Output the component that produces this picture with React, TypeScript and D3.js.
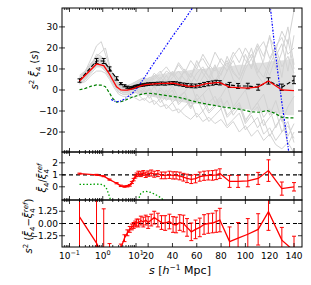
import React from "react";
import * as d3 from "d3";

// ---------- data ----------
const dataS = [0.2, 0.65, 1.07, 1.6, 2.6, 3.5, 4.5, 5.5, 6.5, 7.5, 8.5, 9.5, 10.5, 12, 14, 16, 18, 20, 22.5, 25, 28, 31, 34, 37.5, 40.5, 43, 46, 49, 52, 55.5, 59, 62.5, 66, 69.5, 73, 76, 79, 87, 94, 102, 110.5, 119, 130, 140];
const blackVals = [4.5, 13.8, 13.8, 10, 5.5, 3, 2, 1.3, 1.0, 1.0, 1.3, 1.6, 1.8, 2.0, 2.2, 2.4, 2.6, 2.8, 2.9, 3.0, 3.0, 3.1, 3.0, 3.2, 3.3, 3.1, 2.8, 2.5, 2.2, 2.0, 1.9, 2.2, 2.6, 3.0, 3.3, 3.6, 3.4, 2.4, 1.9, 1.9, 1.3, 4.3, 1.3, 4.8];
const blackErr = [0.8, 1.2, 1.2, 1.0, 0.8, 0.5, 0.5, 0.5, 0.5, 0.5, 0.5, 0.5, 0.5, 0.5, 0.5, 0.6, 0.6, 0.6, 0.6, 0.6, 0.7, 0.7, 0.7, 0.7, 0.7, 0.8, 0.8, 0.8, 0.9, 0.9, 0.9, 0.9, 1.0, 1.0, 1.0, 1.0, 1.0, 1.2, 1.2, 1.3, 1.4, 1.5, 1.5, 1.8];
const redTop = [4.3, 12.4, 11.6, 7.5, 1.5, 0.0, -0.1, 0.0, 0.2, 0.5, 0.8, 1.0, 1.3, 1.6, 2.0, 2.3, 2.5, 2.7, 2.8, 2.9, 3.0, 3.1, 3.1, 3.2, 3.2, 3.0, 2.6, 2.3, 1.9, 1.7, 1.8, 2.2, 2.8, 3.1, 3.3, 3.5, 3.5, 1.4, 1.1, 0.9, 1.5, 4.3, 0.0, -0.3];

const greenS = [0.2, 0.3, 0.45, 0.65, 0.9, 1.2, 1.6, 2.0, 2.6, 3.5, 4.5, 5.5, 7, 9, 11, 14, 17, 20, 25, 31, 37, 43, 49, 55, 62, 69, 76, 83, 90, 97, 104, 111, 118, 124, 130, 136, 141];
const greenVals = [0.1, 0.8, 1.8, 2.4, 2.3, 1.6, -1.5, -4.0, -5.8, -5.6, -5.0, -4.4, -3.7, -3.1, -2.7, -2.1, -1.7, -1.5, -1.8, -2.3, -2.8, -3.3, -4.0, -5.0, -6.0, -6.8, -7.5, -8.2, -8.7, -9.3, -10.3, -10.6, -9.8, -11, -13, -13.3, -13.3];

const blueS = [1.8, 2.2, 2.6, 3.2, 4, 5, 6.5, 8, 10, 12, 15, 18, 21, 25, 30, 40, 50, 60, 70, 80, 100, 115, 119, 121, 124, 127, 130, 133, 136, 140];
const blueVals = [-4.5, -5.2, -5.6, -5.4, -4.8, -3.8, -2.5, -1.3, 0.3, 1.8, 4.2, 6.8, 9.5, 13.0, 17.0, 25.5, 33.5, 42, 50, 57, 62, 55, 46, 37, 21, 7, -6, -18, -31, -45];

const mockS = [0.2, 0.3, 0.45, 0.65, 0.9, 1.2, 1.6, 2.2, 3, 4, 5.5, 7.5, 10, 13, 17, 21, 25, 30, 35, 40, 45, 50, 55, 60, 65, 70, 75, 80, 85, 90, 95, 100, 105, 110, 115, 120, 125, 130, 135, 140];
const mockLo = [3.5, 5.5, 9, 11, 11, 9.5, 6.5, 2.5, -0.5, -1.5, -1.5, -1.5, -1.5, -2, -2.5, -3, -3.5, -4, -4.5, -5, -5.5, -6, -6.5, -6.5, -7, -7, -7.5, -8, -8, -8.5, -9, -9, -9.5, -10, -10, -10.5, -11, -11.5, -12, -12];
const mockHi = [6.5, 9.5, 13, 16, 16, 14, 10, 6, 3, 2.5, 2.5, 3, 4, 5, 5.5, 6, 7, 7.5, 8, 8.5, 9, 9, 9.5, 10, 10, 10.5, 10.5, 11, 11, 11.5, 12, 12, 12.5, 13, 13, 13.5, 14, 14, 14.5, 15];
const mock01 = [6, 9, 15, 21, 23, 17, 11, 6, 3, 2, 2, 3, 4, 5, 6, 4, 8, 5, 9, 7, 12, 8, 14, 10, 17, 12, 9, 15, 11, 18, 13, 20, 15, 22, 16, 25, 19, 28, 22, 38];
const mock02 = [3, 4, 7, 9, 9, 8, 5, 1, -2, -3, -3, -3, -4, -5, -4, -6, -5, -8, -7, -10, -9, -12, -14, -11, -15, -13, -16, -14, -18, -15, -20, -17, -22, -19, -24, -21, -26, -28, -25, -30];
const mock03 = [5, 8, 12, 16, 18, 20, 12, 6, 2, 1, 0, 1, 2, 3, 5, 2, 6, 9, 4, 8, 3, 10, 6, 14, 8, 4, 11, 7, 16, 9, 5, 12, 20, 8, 14, 26, 10, 18, 30, 12];
const mock04 = [4, 6, 10, 13, 12, 10, 7, 3, 0, -1, -1, 0, 1, 0, -2, 1, -3, 0, -5, -2, -6, -3, -8, -4, -10, -6, -3, -9, -5, -12, -8, -15, -10, -6, -13, -9, -18, -12, -22, -16];
const mock05 = [7, 9, 13, 15, 14, 12, 9, 5, 2, 1, 1, 2, 3, 4, 3, 6, 5, 8, 11, 7, 13, 9, 6, 12, 15, 10, 18, 13, 9, 16, 20, 14, 11, 19, 23, 15, 21, 25, 17, 20];
const mock06 = [3, 5, 8, 11, 11, 9, 6, 2, -1, -2, -2, -1, 0, -1, 1, -2, 2, -4, 0, -6, -3, -1, -8, -5, -2, -10, -7, -4, -12, -9, -6, -14, -11, -8, -17, -13, -10, -20, -15, -25];
const mock07 = [5, 7, 11, 14, 15, 13, 10, 5, 2, 1, 1, 1, 2, 4, 2, 5, 1, 3, 7, 2, 5, 9, 4, 1, 6, 11, 3, 8, 13, 5, 2, 10, 15, 7, 3, 12, 18, 6, 24, 10];
const mock08 = [4, 7, 10, 12, 13, 11, 7, 3, 1, 0, 0, 1, 1, -2, 0, -4, -1, -6, -3, 0, -7, -4, -9, -2, -6, -11, -8, -5, -13, -10, -7, -16, -12, -18, -14, -22, -17, -13, -26, -20];
const mock09 = [6, 8, 12, 17, 16, 14, 9, 4, 1, 1, 0, 1, 2, 1, 3, 4, 2, 6, 3, 9, 5, 2, 8, 4, 10, 6, 12, 3, 9, 14, 7, 17, 10, 21, 12, 7, 16, 22, 9, 26];
const mock10 = [4, 6, 9, 12, 12, 10, 7, 3, 0, -1, -1, 0, 1, 2, -1, 0, -3, 1, -2, 2, -4, -1, 3, -5, -2, 1, -6, -3, 2, -8, -4, 0, -10, -6, -2, -12, -5, -15, -8, -3];
const mock11 = [5, 8, 11, 14, 14, 12, 8, 4, 1, 0, 0, 1, 2, 3, 5, 3, 7, 4, 2, 6, 9, 5, 3, 8, 11, 6, 4, 10, 14, 8, 5, 12, 17, 10, 6, 14, 20, 11, 16, 8];
const mock12 = [3, 5, 9, 12, 11, 9, 6, 2, -1, -2, -2, -2, -1, -3, -5, -2, -7, -4, -9, -6, -11, -8, -5, -13, -10, -15, -12, -9, -17, -14, -11, -19, -16, -13, -21, -18, -24, -20, -17, -23];
const mocks = [mock01, mock02, mock03, mock04, mock05, mock06, mock07, mock08, mock09, mock10, mock11, mock12];

const ratioVals = [1.1, 1.0, 0.88, 0.6, 0.3, 0.08, 0.02, 0.05, 0.12, 0.35, 0.6, 0.85, 1.0, 1.1, 1.05, 1.15, 1.0, 1.1, 1.15, 1.05, 1.1, 0.95, 0.95, 1.0, 0.95, 0.95, 0.9, 0.8, 0.7, 0.62, 0.68, 0.85, 0.92, 0.95, 0.95, 1.0, 1.1, 0.45, 0.45, 0.5, 0.7, 1.35, -0.15, 0.0];
const ratioErr = [0.04, 0.04, 0.04, 0.05, 0.05, 0.06, 0.06, 0.06, 0.07, 0.08, 0.1, 0.12, 0.15, 0.2, 0.2, 0.2, 0.22, 0.22, 0.25, 0.25, 0.25, 0.28, 0.28, 0.3, 0.3, 0.3, 0.32, 0.32, 0.35, 0.35, 0.35, 0.38, 0.38, 0.38, 0.4, 0.4, 0.4, 0.5, 0.5, 0.5, 0.5, 0.9, 0.55, 0.35];
const greenRatioS = [0.2, 0.4, 0.65, 0.9, 1.1, 1.3, 1.5, 1.8, 3, 8, 12, 13, 14, 16, 18, 20, 23, 26, 29, 32, 35];
const greenRatioVals = [0.2, 0.2, 0.22, 0.2, 0.1, -0.15, -0.6, -1.3, -20, -20, -1.2, -0.75, -0.55, -0.42, -0.38, -0.4, -0.5, -0.65, -0.82, -1.05, -1.3];

const diffVals = [0.67, -2.0, -3.5, -2.7, -4, -2.5, -1.5, -0.95, -0.6, -0.35, -0.2, -0.05, 0.1, 0.05, 0.3, 0.15, 0.35, 0.1, 0.35, 0.6, 0.35, 0.1, 0.05, 0.2, -0.1, -0.15, 0.1, 0.0, -0.4, -0.85, -0.6, -0.4, -0.1, 0.0, 0.05, 0.2, 0.35, -1.85, -1.5, -1.1, -0.6, 1.2, -1.7, -2.8];
const diffErr = [5, 5, 5, 0.65, 0.5, 0.4, 0.35, 0.3, 0.3, 0.3, 0.3, 0.3, 0.35, 0.4, 0.45, 0.5, 0.5, 0.6, 0.6, 0.65, 0.7, 0.7, 0.75, 0.75, 0.8, 0.8, 0.8, 0.85, 0.9, 0.9, 0.95, 0.95, 1.0, 1.0, 1.0, 1.1, 1.2, 1.5, 1.6, 1.6, 1.6, 1.9, 1.3, 1.5];

const topTicks = [-20, -10, 0, 10, 20, 30];
const midTicks = [0, 1, 2];
const botTicks = [-1.25, 0, 1.25];
const botTickLabels = ["\u22121.25", "0.00", "1.25"];
const logMajor = [0.1, 1, 10];
const logMajorExp = ["\u22121", "0", "1"];
const logMinor = [0.07, 0.08, 0.09, 0.2, 0.3, 0.4, 0.5, 0.6, 0.7, 0.8, 0.9, 2, 3, 4, 5, 6, 7, 8, 9];
const linMajor = [20, 40, 60, 80, 100, 120, 140];

// ---------- layout / scales ----------
const W = 311, H = 285;
const X0 = 62, X1 = 302;
const xLog = d3.scaleLog().domain([0.1, 10]).range([69.5, 136]);
const xLin = d3.scaleLinear().domain([10, 140]).range([136, 294]);
const xs = (s: number) => (s < 10 ? xLog(s) : xLin(s));

const yTop = d3.scaleLinear().domain([-29.5, 39]).range([152, 8]);
const yMid = d3.scaleLinear().domain([-1.1, 2.9]).range([200, 152]);
const yBot = d3.scaleLinear().domain([-2.4, 2.4]).range([247, 200]);

const FONT = "DejaVu Sans, sans-serif";

function linePath(sArr: number[], vArr: number[], y: d3.ScaleLinear<number, number>) {
  const pts: [number, number][] = sArr.map((s, i) => [s, vArr[i]]);
  return d3.line<[number, number]>().x((d) => xs(d[0])).y((d) => y(d[1]))(pts) || "";
}
function areaPath(sArr: number[], lo: number[], hi: number[], y: d3.ScaleLinear<number, number>) {
  const idx = sArr.map((_, i) => i);
  return d3.area<number>().x((i) => xs(sArr[i])).y0((i) => y(lo[i])).y1((i) => y(hi[i]))(idx) || "";
}

function ErrBars({ sArr, vArr, eArr, y, color }: any) {
  return (
    <g stroke={color} strokeWidth={1} fill="none">
      {sArr.map((s: number, i: number) => {
        const x = xs(s);
        const y1 = y(vArr[i] - eArr[i]);
        const y2 = y(vArr[i] + eArr[i]);
        return (
          <g key={i}>
            <line x1={x} x2={x} y1={y1} y2={y2} />
            <line x1={x - 2} x2={x + 2} y1={y1} y2={y1} />
            <line x1={x - 2} x2={x + 2} y1={y2} y2={y2} />
          </g>
        );
      })}
    </g>
  );
}

function Frame({ top, bot, y, ticks, labels }: any) {
  const xt: JSX.Element[] = [];
  const allMajor = [...logMajor, ...linMajor];
  allMajor.forEach((s, i) => {
    const x = xs(s);
    xt.push(<line key={"mt" + i} x1={x} x2={x} y1={top} y2={top + 4} />);
    xt.push(<line key={"mb" + i} x1={x} x2={x} y1={bot} y2={bot - 4} />);
  });
  logMinor.forEach((s, i) => {
    const x = xs(s);
    xt.push(<line key={"nt" + i} x1={x} x2={x} y1={top} y2={top + 2} />);
    xt.push(<line key={"nb" + i} x1={x} x2={x} y1={bot} y2={bot - 2} />);
  });
  return (
    <g>
      <g stroke="#000" strokeWidth={0.8}>
        {xt}
        {ticks.map((t: number, i: number) => (
          <g key={"y" + i}>
            <line x1={X0 - 3} x2={X0 + 3} y1={y(t)} y2={y(t)} />
            <line x1={X1} x2={X1 - 4} y1={y(t)} y2={y(t)} />
          </g>
        ))}
      </g>
      <rect x={X0} y={top} width={X1 - X0} height={bot - top} fill="none" stroke="#000" strokeWidth={1} />
      <g fontFamily={FONT} fontSize={9} textAnchor="end" fill="#000">
        {ticks.map((t: number, i: number) => (
          <text key={i} x={X0 - 4} y={y(t) + 3.2}>
            {labels[i]}
          </text>
        ))}
      </g>
    </g>
  );
}

export default function App() {
  const fmt = (v: number) => (v < 0 ? "\u2212" + Math.abs(v) : String(v));
  return (
    <svg width={W} height={H} style={{ position: "absolute", left: 0, top: 0, background: "#fff" }}>
      <defs>
        <clipPath id="cTop"><rect x={X0} y={8} width={X1 - X0} height={144} /></clipPath>
        <clipPath id="cMid"><rect x={X0} y={152} width={X1 - X0} height={48} /></clipPath>
        <clipPath id="cBot"><rect x={X0} y={200} width={X1 - X0} height={47} /></clipPath>
      </defs>

      {/* top panel */}
      <g clipPath="url(#cTop)">
        <path d={areaPath(mockS, mockLo, mockHi, yTop)} fill="#e0e0e0" stroke="none" />
        {mocks.map((m, i) => (
          <path key={i} d={linePath(mockS, m, yTop)} fill="none" stroke="#d3d3d3" strokeWidth={1} />
        ))}
        <path d={linePath(greenS, greenVals, yTop)} fill="none" stroke="#008000" strokeWidth={1.2} strokeDasharray="3,2" />
        <path d={linePath(blueS, blueVals, yTop)} fill="none" stroke="#0000ff" strokeWidth={1.2} strokeDasharray="2,1.5,1,1.5" />
        <path d={linePath(dataS, blackVals, yTop)} fill="none" stroke="#000" strokeWidth={1.2} strokeDasharray="4,2" />
        <ErrBars sArr={dataS} vArr={blackVals} eArr={blackErr} y={yTop} color="#000" />
        <path d={linePath(dataS, redTop, yTop)} fill="none" stroke="#ff0000" strokeWidth={1.3} />
      </g>

      {/* middle panel */}
      <g clipPath="url(#cMid)">
        <line x1={X0} x2={X1} y1={yMid(1)} y2={yMid(1)} stroke="#000" strokeWidth={1.2} strokeDasharray="4,3" />
        <path d={linePath(greenRatioS, greenRatioVals, yMid)} fill="none" stroke="#00a000" strokeWidth={1.3} strokeDasharray="1.5,2" />
        <path d={linePath(dataS, ratioVals, yMid)} fill="none" stroke="#ff0000" strokeWidth={1.3} />
        <ErrBars sArr={dataS} vArr={ratioVals} eArr={ratioErr} y={yMid} color="#ff0000" />
      </g>

      {/* bottom panel */}
      <g clipPath="url(#cBot)">
        <line x1={X0} x2={X1} y1={yBot(0)} y2={yBot(0)} stroke="#000" strokeWidth={1.2} strokeDasharray="4,3" />
        <path d={linePath(dataS, diffVals, yBot)} fill="none" stroke="#ff0000" strokeWidth={1.3} />
        <ErrBars sArr={dataS} vArr={diffVals} eArr={diffErr} y={yBot} color="#ff0000" />
      </g>

      <Frame top={8} bot={152} y={yTop} ticks={topTicks} labels={topTicks.map(fmt)} />
      <Frame top={152} bot={200} y={yMid} ticks={midTicks} labels={midTicks.map(fmt)} />
      <Frame top={200} bot={247} y={yBot} ticks={botTicks} labels={botTickLabels} />

      {/* x tick labels */}
      <g fontFamily={FONT} fontSize={9} textAnchor="middle" fill="#000">
        {logMajor.map((s, i) => (
          <text key={"l" + i} x={xs(s)} y={259}>
            <tspan>10</tspan>
            <tspan dy={-4} fontSize={6.5}>{logMajorExp[i]}</tspan>
          </text>
        ))}
        {linMajor.map((s, i) => (
          <text key={"n" + i} x={xs(s)} y={259}>{s}</text>
        ))}
      </g>

      {/* axis labels */}
      <text x={180} y={274} fontFamily={FONT} fontSize={11} textAnchor="middle" fill="#000">
        <tspan fontStyle="italic">s</tspan>
        <tspan> [</tspan>
        <tspan fontStyle="italic">h</tspan>
        <tspan dy={-4} fontSize={7.5}>{"\u22121"}</tspan>
        <tspan dy={4}> Mpc]</tspan>
      </text>

      <text transform="translate(38,70) rotate(-90)" fontFamily={FONT} fontSize={10} textAnchor="middle" fill="#000">
        <tspan fontStyle="italic">s</tspan>
        <tspan dy={-4} fontSize={7}>2</tspan>
        <tspan dy={4} fontStyle="italic">{" \u03BE\u0304"}</tspan>
        <tspan dy={2.5} fontSize={7}>4</tspan>
        <tspan dy={-2.5}>{" ("}</tspan>
        <tspan fontStyle="italic">s</tspan>
        <tspan>)</tspan>
      </text>

      <text transform="translate(46,178) rotate(-90)" fontFamily={FONT} fontSize={10} textAnchor="middle" fill="#000">
        <tspan fontStyle="italic">{"\u03BE\u0304"}</tspan>
        <tspan dy={2.5} fontSize={7}>4</tspan>
        <tspan dy={-2.5}>/</tspan>
        <tspan fontStyle="italic">{"\u03BE\u0304"}</tspan>
        <tspan dy={2.5} fontSize={7}>4</tspan>
        <tspan dx={-4} dy={-7} fontSize={7} fontStyle="italic">ref</tspan>
      </text>

      <text transform="translate(32,226) rotate(-90)" fontFamily={FONT} fontSize={10} textAnchor="middle" fill="#000">
        <tspan fontStyle="italic">s</tspan>
        <tspan dy={-4} fontSize={7}>2</tspan>
        <tspan dy={4}>{" ("}</tspan>
        <tspan fontStyle="italic">{"\u03BE\u0304"}</tspan>
        <tspan dy={2.5} fontSize={7}>4</tspan>
        <tspan dy={-2.5}>{"\u2212"}</tspan>
        <tspan fontStyle="italic">{"\u03BE\u0304"}</tspan>
        <tspan dy={2.5} fontSize={7}>4</tspan>
        <tspan dx={-4} dy={-7} fontSize={7} fontStyle="italic">ref</tspan>
        <tspan dy={4.5}>)</tspan>
      </text>
    </svg>
  );
}
